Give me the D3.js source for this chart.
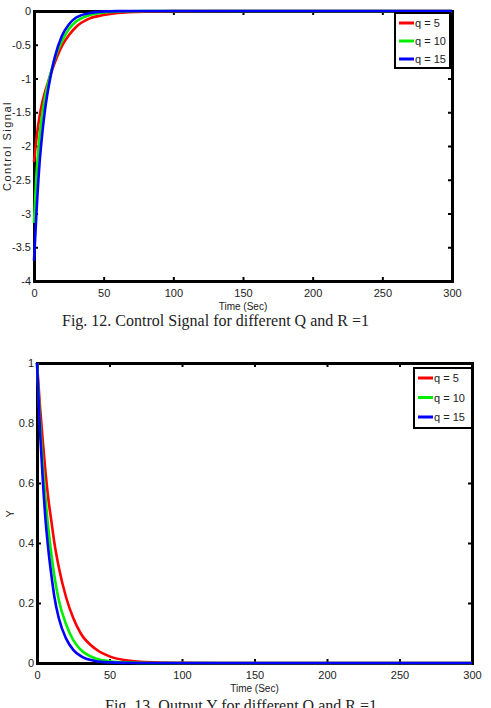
<!DOCTYPE html>
<html>
<head>
<meta charset="utf-8">
<script src="https://cdn.jsdelivr.net/npm/d3@7"></script>
<style>
  body { margin: 0; background: #fff; }
  svg { display: block; }
  .tick text { font-family: "Liberation Sans", Arial, sans-serif; font-size: 11px; fill: #222; }
  .lab { font-family: "Liberation Sans", Arial, sans-serif; font-size: 10px; fill: #222; }
  .ylab { font-family: "Liberation Sans", Arial, sans-serif; font-size: 11px; letter-spacing: 1.5px; fill: #222; }
  .cap { font-family: "Liberation Serif", "Times New Roman", serif; font-size: 16px; fill: #222; }
  .leg { font-family: "Liberation Sans", Arial, sans-serif; font-size: 11px; fill: #222; }
</style>
</head>
<body>
<div id="graphic"></div>
<script>
// sample times (sec)
var times = [0, 2, 4, 6, 8, 10, 12, 15, 20, 25, 30, 40, 50, 60, 80, 100, 150, 200, 250, 300];

// Fig. 12 control signal
var u5  = [-2.24, -1.85, -1.56, -1.35, -1.19, -1.06, -0.93, -0.76, -0.52, -0.36, -0.24, -0.11, -0.06, -0.03, -0.008, -0.002, 0, 0, 0, 0];
var u10 = [-3.14, -2.35, -1.85, -1.52, -1.27, -1.08, -0.92, -0.70, -0.45, -0.27, -0.16, -0.06, -0.02, -0.008, -0.001, 0, 0, 0, 0, 0];
var u15 = [-3.70, -2.90, -2.25, -1.80, -1.45, -1.18, -0.96, -0.68, -0.37, -0.20, -0.10, -0.03, -0.008, -0.002, 0, 0, 0, 0, 0, 0];

// Fig. 13 output Y
var y5  = [1, 0.86, 0.74, 0.63, 0.54, 0.47, 0.40, 0.32, 0.22, 0.15, 0.10, 0.048, 0.022, 0.010, 0.002, 0.0005, 0, 0, 0, 0];
var y10 = [1, 0.81, 0.66, 0.54, 0.44, 0.36, 0.29, 0.21, 0.13, 0.076, 0.045, 0.016, 0.006, 0.002, 0, 0, 0, 0, 0, 0];
var y15 = [1, 0.78, 0.61, 0.47, 0.37, 0.29, 0.22, 0.15, 0.082, 0.044, 0.024, 0.007, 0.002, 0.0005, 0, 0, 0, 0, 0, 0];

var seriesNames = ["q = 5", "q = 10", "q = 15"];
var colors = ["#ff0000", "#00ee00", "#0000ff"];
var xTicks = [0, 50, 100, 150, 200, 250, 300];
var uTicks = [0, -0.5, -1, -1.5, -2, -2.5, -3, -3.5, -4];
var yTicks = [0, 0.2, 0.4, 0.6, 0.8, 1];

var svg = d3.select("#graphic").append("svg")
  .attr("width", 491).attr("height", 708);

function drawPanel(p) {
  var g = svg.append("g").attr("transform", "translate(" + p.left + "," + p.top + ")");
  var x = d3.scaleLinear().domain([0, 300]).range([0, p.width]);
  var y = d3.scaleLinear().domain(p.ydomain).range([p.height, 0]);

  var fmt = function(d) { return String(d); };

  var ax = [
    g.append("g").attr("transform", "translate(0," + p.height + ")")
      .call(d3.axisBottom(x).tickValues(xTicks).tickFormat(fmt).tickSizeInner(-4).tickSizeOuter(0).tickPadding(8)),
    g.append("g")
      .call(d3.axisTop(x).tickValues(xTicks).tickFormat("").tickSizeInner(-4).tickSizeOuter(0)),
    g.append("g")
      .call(d3.axisLeft(y).tickValues(p.yticks).tickFormat(fmt).tickSizeInner(-4).tickSizeOuter(0).tickPadding(3)),
    g.append("g").attr("transform", "translate(" + p.width + ",0)")
      .call(d3.axisRight(y).tickValues(p.yticks).tickFormat("").tickSizeInner(-4).tickSizeOuter(0))
  ];
  ax.forEach(function(a) {
    a.select(".domain").attr("stroke", "#000").attr("stroke-width", 3).attr("stroke-linecap", "square");
    a.selectAll(".tick line").attr("stroke", "#000").attr("stroke-width", 2);
  });

  var line = d3.line()
    .x(function(d) { return x(d[0]); })
    .y(function(d) { return y(d[1]); })
    .curve(d3.curveMonotoneX);

  p.series.forEach(function(vals, i) {
    g.append("path")
      .datum(times.map(function(t, k) { return [t, vals[k]]; }))
      .attr("fill", "none")
      .attr("stroke", colors[i])
      .attr("stroke-width", 2.6)
      .attr("d", line);
  });

  // legend
  var lg = g.append("g").attr("transform", "translate(" + p.legX + "," + p.legY + ")");
  lg.append("rect").attr("width", p.legW).attr("height", p.legH)
    .attr("fill", "#fff").attr("stroke", "#000").attr("stroke-width", 2);
  seriesNames.forEach(function(name, i) {
    var ry = 10 + i * p.legStep;
    lg.append("line").attr("x1", 4).attr("x2", 19).attr("y1", ry).attr("y2", ry)
      .attr("stroke", colors[i]).attr("stroke-width", 3);
    lg.append("text").attr("class", "leg").attr("x", 20).attr("y", ry + 4).text(name);
  });

  g.append("text").attr("class", "lab")
    .attr("x", p.width / 2).attr("y", p.height + 29)
    .attr("text-anchor", "middle").text("Time (Sec)");
  g.append("text").attr("class", "ylab")
    .attr("transform", "translate(" + p.ylabX + "," + (p.height / 2) + ") rotate(-90)")
    .attr("text-anchor", "middle").text(p.ylabel);

  svg.append("text").attr("class", "cap")
    .attr("x", p.capX).attr("y", p.capY).text(p.caption);
}

drawPanel({
  left: 34, top: 11, width: 418, height: 270,
  ydomain: [-4, 0], yticks: uTicks,
  series: [u5, u10, u15],
  legX: 361, legY: 2, legW: 55, legH: 55, legStep: 18,
  ylabel: "Control Signal", ylabX: -23,
  caption: "Fig. 12. Control Signal for different Q and R =1", capX: 62, capY: 326
});

drawPanel({
  left: 37, top: 363, width: 435, height: 300,
  ydomain: [0, 1], yticks: yTicks,
  series: [y5, y10, y15],
  legX: 377, legY: 5, legW: 58, legH: 60, legStep: 19.5,
  ylabel: "Y", ylabX: -23,
  caption: "Fig. 13. Output Y for different Q and R =1", capX: 105, capY: 711
});
</script>
</body>
</html>
